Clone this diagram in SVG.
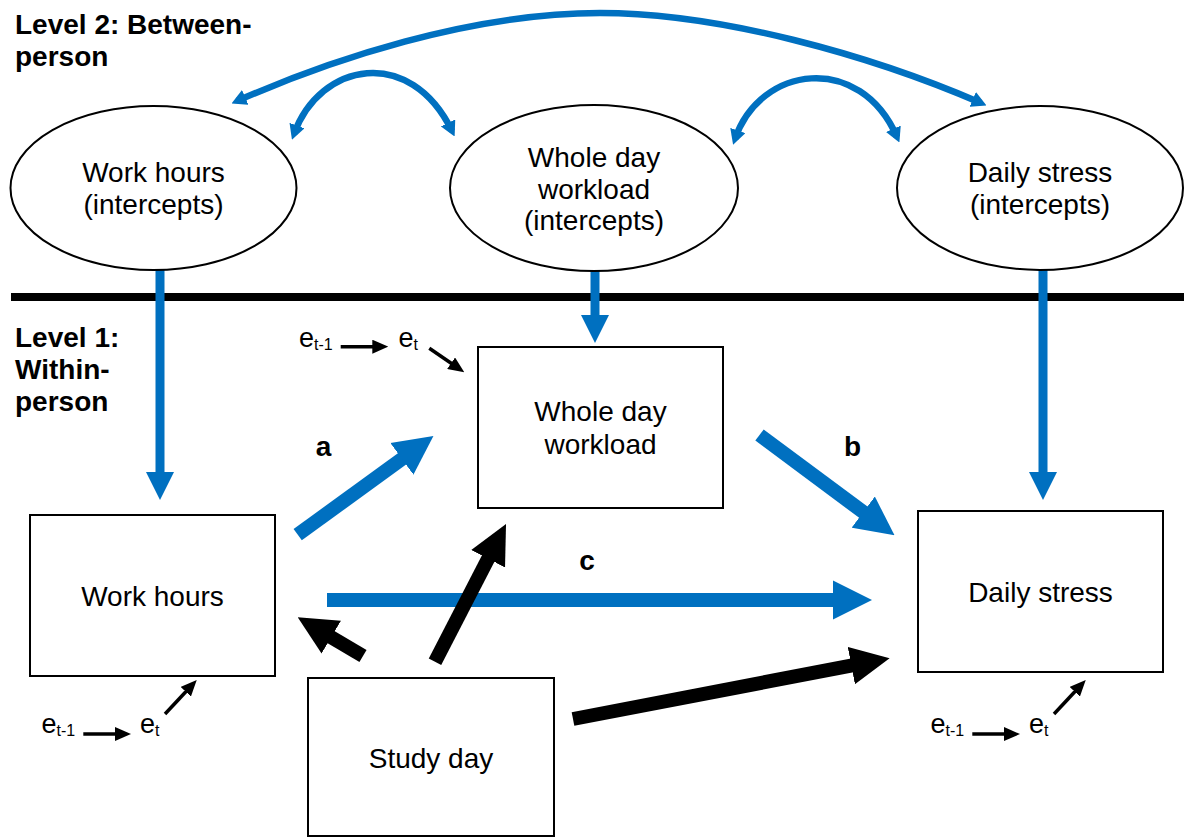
<svg xmlns="http://www.w3.org/2000/svg" width="1186" height="838" viewBox="0 0 1186 838">
<style>
text{font-family:"Liberation Sans",Arial,sans-serif;fill:#000}
.hd{font-size:28px;font-weight:bold}
.lb{font-size:28px;text-anchor:middle}
.lt{font-size:28px;font-weight:bold;text-anchor:middle}
.e{font-size:27px}
.sub{font-size:16px}
.node{fill:#fff;stroke:#000;stroke-width:2}
.blue{stroke:#0070C0;fill:none}
.blk{stroke:#000;fill:none}
</style>
<defs>
<marker id="hb" markerUnits="userSpaceOnUse" viewBox="0 -20 39 40" markerWidth="39" markerHeight="40" refX="1" refY="0" orient="auto"><path d="M0,-19.5 L39,0 L0,19.5 Z" fill="#0070C0"/></marker>
<marker id="hk" markerUnits="userSpaceOnUse" viewBox="0 -20 39 40" markerWidth="39" markerHeight="40" refX="1" refY="0" orient="auto"><path d="M0,-19 L39,0 L0,19 Z" fill="#000"/></marker>
<marker id="hv" markerUnits="userSpaceOnUse" viewBox="0 -14 28 28" markerWidth="28" markerHeight="28" refX="1" refY="0" orient="auto"><path d="M0,-14 L28,0 L0,14 Z" fill="#0070C0"/></marker>
<marker id="hs" markerUnits="userSpaceOnUse" viewBox="0 -7 16 14" markerWidth="16" markerHeight="14" refX="1" refY="0" orient="auto"><path d="M0,-7 L16,0 L0,7 Z" fill="#000"/></marker>
<marker id="hc" markerUnits="userSpaceOnUse" viewBox="0 -8 15 16" markerWidth="15" markerHeight="16" refX="9" refY="0" orient="auto-start-reverse"><path d="M0,-8 L15,0 L0,8 Z" fill="#0070C0"/></marker>
</defs>

<g id="headings">
<text class="hd" x="15" y="34">Level 2: Between-</text>
<text class="hd" x="15" y="66">person</text>
<text class="hd" x="15" y="347">Level 1:</text>
<text class="hd" x="15" y="379">Within-</text>
<text class="hd" x="15" y="411">person</text>
</g>

<g id="divider">
<line x1="11" y1="297" x2="1184" y2="297" stroke="#000" stroke-width="8"/>
</g>

<g id="connectors">
<!-- covariance curves -->
<path class="blue" stroke-width="6.5" d="M237,101 C330,60 470,13 600,13 C720,13 870,55 981,103" marker-start="url(#hc)" marker-end="url(#hc)"/>
<path class="blue" stroke-width="6.5" d="M294,134 C320,62 410,45 452,131" marker-start="url(#hc)" marker-end="url(#hc)"/>
<path class="blue" stroke-width="6.5" d="M735,139 C760,65 860,52 897,137" marker-start="url(#hc)" marker-end="url(#hc)"/>
<!-- between to within -->
<line class="blue" stroke-width="9" x1="160" y1="268" x2="160" y2="473" marker-end="url(#hv)"/>
<line class="blue" stroke-width="9" x1="595" y1="270" x2="595" y2="316" marker-end="url(#hv)"/>
<line class="blue" stroke-width="9" x1="1043" y1="268" x2="1043" y2="473" marker-end="url(#hv)"/>
<!-- a, b, c paths -->
<line class="blue" stroke-width="14" x1="297.7" y1="534.7" x2="402.7" y2="458.3" marker-end="url(#hb)"/>
<line class="blue" stroke-width="14" x1="759.5" y1="435" x2="864" y2="512.7" marker-end="url(#hb)"/>
<line class="blue" stroke-width="14" x1="327" y1="600" x2="834" y2="600" marker-end="url(#hb)"/>
<!-- study day effects -->
<line class="blk" stroke-width="14" x1="363" y1="656" x2="330.4" y2="636.7" marker-end="url(#hk)"/>
<line class="blk" stroke-width="14" x1="435" y1="661.7" x2="488.6" y2="557.8" marker-end="url(#hk)"/>
<line class="blk" stroke-width="14" x1="573" y1="719" x2="852.3" y2="665.4" marker-end="url(#hk)"/>
<!-- residual arrows -->
<line class="blk" stroke-width="3.5" x1="340.7" y1="346.7" x2="373.3" y2="346.7" marker-end="url(#hs)"/>
<line class="blk" stroke-width="3.5" x1="429.3" y1="348.3" x2="451.9" y2="363.8" marker-end="url(#hs)"/>
<line class="blk" stroke-width="3.5" x1="83.3" y1="734" x2="116" y2="734" marker-end="url(#hs)"/>
<line class="blk" stroke-width="3.5" x1="165" y1="714" x2="186.5" y2="691" marker-end="url(#hs)"/>
<line class="blk" stroke-width="3.5" x1="972.3" y1="734" x2="1005" y2="734" marker-end="url(#hs)"/>
<line class="blk" stroke-width="3.5" x1="1054" y1="714" x2="1075.5" y2="691" marker-end="url(#hs)"/>
</g>

<g id="labels">
<text class="lt" x="323.5" y="456">a</text>
<text class="lt" x="852.5" y="456">b</text>
<text class="lt" x="587" y="570">c</text>
</g>

<g id="residuals">
<text class="e" x="299" y="347">e<tspan class="sub" dy="3">t-1</tspan></text>
<text class="e" x="398.5" y="347">e<tspan class="sub" dy="3">t</tspan></text>
<text class="e" x="41.5" y="733">e<tspan class="sub" dy="3">t-1</tspan></text>
<text class="e" x="140" y="733">e<tspan class="sub" dy="3">t</tspan></text>
<text class="e" x="930.5" y="733">e<tspan class="sub" dy="3">t-1</tspan></text>
<text class="e" x="1029" y="733">e<tspan class="sub" dy="3">t</tspan></text>
</g>

<g id="node-workhours-intercepts">
<ellipse class="node" cx="153.5" cy="188" rx="143" ry="82"/>
<text class="lb" x="153.5" y="182">Work hours</text>
<text class="lb" x="153.5" y="214">(intercepts)</text>
</g>
<g id="node-workload-intercepts">
<ellipse class="node" cx="594" cy="188" rx="144" ry="83"/>
<text class="lb" x="594" y="167">Whole day</text>
<text class="lb" x="594" y="199">workload</text>
<text class="lb" x="594" y="230">(intercepts)</text>
</g>
<g id="node-stress-intercepts">
<ellipse class="node" cx="1040" cy="188" rx="143" ry="82"/>
<text class="lb" x="1040" y="182">Daily stress</text>
<text class="lb" x="1040" y="214">(intercepts)</text>
</g>

<g id="node-workload">
<rect class="node" x="478" y="347" width="245" height="161"/>
<text class="lb" x="600.5" y="421">Whole day</text>
<text class="lb" x="600.5" y="454">workload</text>
</g>
<g id="node-workhours">
<rect class="node" x="30" y="515" width="245" height="161"/>
<text class="lb" x="152.5" y="606">Work hours</text>
</g>
<g id="node-stress">
<rect class="node" x="918" y="511" width="245" height="161"/>
<text class="lb" x="1040.5" y="602">Daily stress</text>
</g>
<g id="node-studyday">
<rect class="node" x="308" y="678" width="246" height="158"/>
<text class="lb" x="431" y="768">Study day</text>
</g>
</svg>
